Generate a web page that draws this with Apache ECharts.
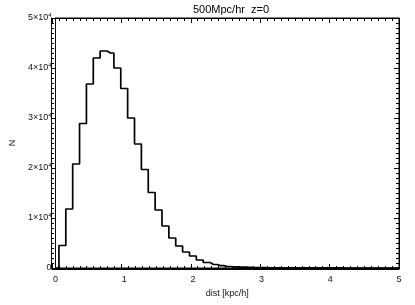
<!DOCTYPE html>
<html>
<head>
<meta charset="utf-8">
<script src="https://cdn.jsdelivr.net/npm/echarts@6/dist/echarts.min.js"></script>
<style>html,body{margin:0;padding:0;background:#fff}#c{width:415px;height:305px}</style>
</head>
<body>
<div id="c"></div>
<script>
var titleText = '500Mpc/hr  z=0';
var xName = 'dist [kpc/h]';
var yName = 'N';
var distCenters = [0.0,0.1,0.2,0.3,0.4,0.5,0.6,0.7,0.8,0.9,1.0,1.1,1.2,1.3,1.4,1.5,1.6,1.7,1.8,1.9,2.0,2.1,2.2,2.3,2.4,2.5,2.6,2.7,2.8,2.9,3.0,3.1,3.2,3.3,3.4,3.5,3.6,3.7,3.8,3.9,4.0,4.1,4.2,4.3,4.4,4.5,4.6,4.7,4.8,4.9,5.0];
var counts = [0,4500,11800,20800,28900,36800,42000,43400,43000,40000,35900,30000,24800,19700,15100,11600,8400,6000,4400,3200,2400,1600,1100,700,480,300,220,160,120,90,70,55,45,35,28,22,18,15,12,10,8,6,5,4,3,3,2,2,1,1,0];
var xTicks = [0,1,2,3,4,5];
var yTicks = [0,10000,20000,30000,40000,50000];

var pairs = distCenters.map(function(x,i){return [x, counts[i]];});
var font = 'Liberation Sans';
var W = 415, H = 305, GL = 52, GR = 16, GT = 18, GB = 37;
var PW = W - GL - GR, PH = H - GT - GB;
function yFmt(v){
  if (v === 0) return '0';
  return '{b|' + (v/10000) + '×10}{s|4}';
}
var xMin = xTicks[0], xMax = xTicks[xTicks.length-1];
var yMin = yTicks[0], yMax = yTicks[yTicks.length-1];
function tickAxis(type, pos, grid){
  var a = {type:'value',position:pos,gridIndex:grid,
    axisLine:{show:true,lineStyle:{color:'#000',width:1}},
    axisTick:{show:true,inside:false,length:5,lineStyle:{color:'#000',width:1}},
    minorTick:{show:true,splitNumber:10,length:3,lineStyle:{color:'#000',width:1}},
    splitLine:{show:false},axisLabel:{show:false}};
  if (type === 'x') { a.min = xMin; a.max = xMax; a.interval = 1; }
  else { a.min = yMin; a.max = yMax; a.interval = 10000; }
  return a;
}
function hiddenAxis(type, grid){
  var a = {type:'value',gridIndex:grid,show:false};
  if (type === 'x') { a.min = xMin; a.max = xMax; }
  else { a.min = yMin; a.max = yMax; }
  return a;
}
function ghost(i){
  return {type:'line',data:pairs,xAxisIndex:i,yAxisIndex:i,symbol:'none',silent:true,
    lineStyle:{opacity:0},z:0};
}
var chart = echarts.init(document.getElementById('c'), null, {renderer:'canvas'});
chart.setOption({
  animation:false,
  backgroundColor:'#fff',
  title:{text:titleText,left:226,textAlign:'center',top:-1,textStyle:{fontFamily:font,fontSize:11,fontWeight:'normal',color:'#000'}},
  grid:[
    {left:GL,right:GR,top:GT,bottom:GB,containLabel:false,show:true,borderColor:'#000',borderWidth:1,backgroundColor:'transparent'},
    {left:GL,width:PW,top:GT+PH,height:1,containLabel:false},
    {left:GL,width:PW,top:GT-1,height:1,containLabel:false},
    {left:GL-1,width:1,top:GT,height:PH,containLabel:false},
    {left:GL+PW,width:1,top:GT,height:PH,containLabel:false}
  ],
  xAxis:[
    {type:'value',gridIndex:0,min:xMin,max:xMax,interval:1,position:'bottom',
      name:xName,nameLocation:'middle',nameGap:20,nameTextStyle:{fontFamily:font,fontSize:9,color:'#111'},
      axisLine:{show:true,lineStyle:{color:'#000'}},axisTick:{show:false},minorTick:{show:false},splitLine:{show:false},
      axisLabel:{fontFamily:font,fontSize:9,color:'#111',margin:7}},
    tickAxis('x','top',1),
    tickAxis('x','bottom',2),
    hiddenAxis('x',3),
    hiddenAxis('x',4)
  ],
  yAxis:[
    {type:'value',gridIndex:0,min:yMin,max:yMax,interval:10000,position:'left',
      name:yName,nameLocation:'middle',nameGap:38,nameTextStyle:{fontFamily:font,fontSize:9,color:'#111'},
      axisLine:{show:true,lineStyle:{color:'#000'}},axisTick:{show:false},minorTick:{show:false},splitLine:{show:false},
      axisLabel:{fontFamily:font,fontSize:9,color:'#111',margin:4,formatter:yFmt,
        rich:{b:{fontFamily:font,fontSize:9,color:'#111'},s:{fontFamily:font,fontSize:6,color:'#111',verticalAlign:'top',padding:[0,0,5,0]}}}},
    hiddenAxis('y',1),
    hiddenAxis('y',2),
    tickAxis('y','right',3),
    tickAxis('y','left',4)
  ],
  series:[
    {type:'line',step:'middle',data:pairs,showSymbol:false,symbol:'none',
      lineStyle:{color:'#000',width:1.7},xAxisIndex:0,yAxisIndex:0,z:5},
    ghost(1),ghost(2),ghost(3),ghost(4)
  ]
});
</script>
</body>
</html>
